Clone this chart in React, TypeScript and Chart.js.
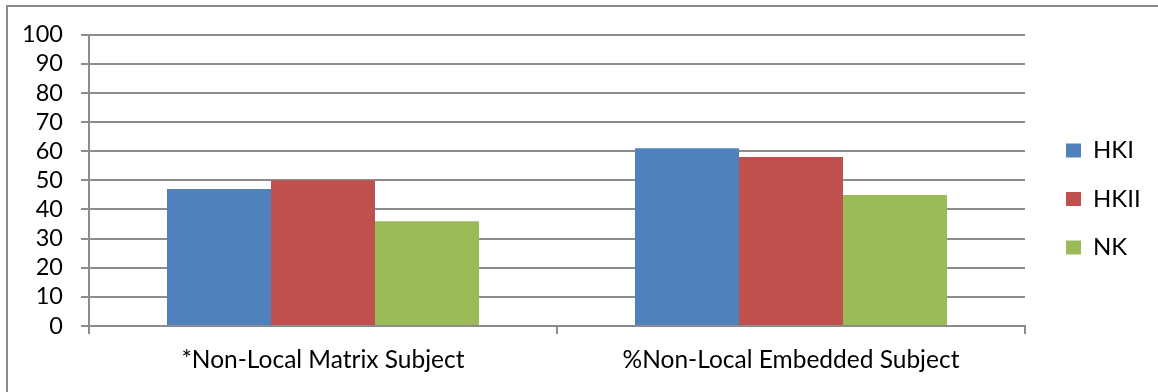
import { useEffect, useRef } from "react";
import { Chart, registerables } from "chart.js";

Chart.register(...registerables);

// Categories and series values
const categories = ["*Non-Local Matrix Subject", "%Non-Local Embedded Subject"];
const seriesNames = ["HKI", "HKII", "NK"];
const hkiValues = [47, 61];
const hkiiValues = [50, 58];
const nkValues = [36, 45];
const seriesColors = ["#4F81BD", "#C0504D", "#9BBB59"];

// Value axis
const yMin = 0;
const yMax = 100;
const yStep = 10;

const FONT = "Lato";
const GRID = "#8c8c8c";

// Moves the legend column a little further from the plot and keeps its clip box wide
const legendNudge = {
  id: "legendNudge",
  afterLayout(chart: any) {
    const lg = chart.legend;
    if (!lg) return;
    const dx = 16.5;
    const dy = -14.3;
    lg.left += dx;
    lg.right = chart.width;
    lg.top += dy;
    lg.bottom += dy;
  },
};

export default function App() {
  const canvasRef = useRef<HTMLCanvasElement | null>(null);

  useEffect(() => {
    const canvas = canvasRef.current;
    if (!canvas) return;
    const values = [hkiValues, hkiiValues, nkValues];
    const chart = new Chart(canvas, {
      type: "bar",
      data: {
        labels: categories,
        datasets: seriesNames.map((name, i) => ({
          label: name,
          data: values[i],
          backgroundColor: seriesColors[i],
          borderWidth: 0,
          barPercentage: 1,
          categoryPercentage: 2 / 3,
        })),
      },
      options: {
        responsive: false,
        animation: false,
        devicePixelRatio: 1,
        layout: { padding: { top: 34.7, right: 73, bottom: 0, left: 0 } },
        plugins: {
          tooltip: { enabled: false },
          legend: {
            position: "right",
            maxWidth: 60,
            labels: {
              boxWidth: 15,
              boxHeight: 14,
              padding: 24.5,
              color: "#000",
              font: { family: FONT, size: 24 },
            },
          },
        },
        scales: {
          x: {
            offset: true,
            grid: {
              offset: true,
              drawOnChartArea: false,
              drawTicks: true,
              tickLength: 8,
              color: GRID,
              lineWidth: 2,
            },
            border: { display: true, color: GRID, width: 2 },
            ticks: {
              color: "#000",
              padding: 11,
              maxRotation: 0,
              autoSkip: false,
              font: { family: FONT, size: 24.5 },
            },
            afterFit(scale: any) {
              scale.height = 66;
            },
          },
          y: {
            min: yMin,
            max: yMax,
            grid: {
              color: GRID,
              lineWidth: 2,
              tickLength: 8,
            },
            border: { display: true, color: GRID, width: 2 },
            ticks: {
              stepSize: yStep,
              autoSkip: false,
              color: "#000",
              padding: 18,
              font: { family: FONT, size: 23.5 },
            },
            afterFit(scale: any) {
              scale.width = 89;
            },
          },
        },
      },
      plugins: [legendNudge],
    });
    return () => chart.destroy();
  }, []);

  return (
    <div>
      <div
        style={{
          position: "fixed",
          left: 6,
          top: 5,
          width: 1200,
          height: 400,
          border: "2px solid #8c8c8c",
          boxSizing: "border-box",
        }}
      />
      <canvas
        ref={canvasRef}
        width={1158}
        height={392}
        style={{ position: "fixed", left: 0, top: 0, width: 1158, height: 392 }}
      />
    </div>
  );
}
